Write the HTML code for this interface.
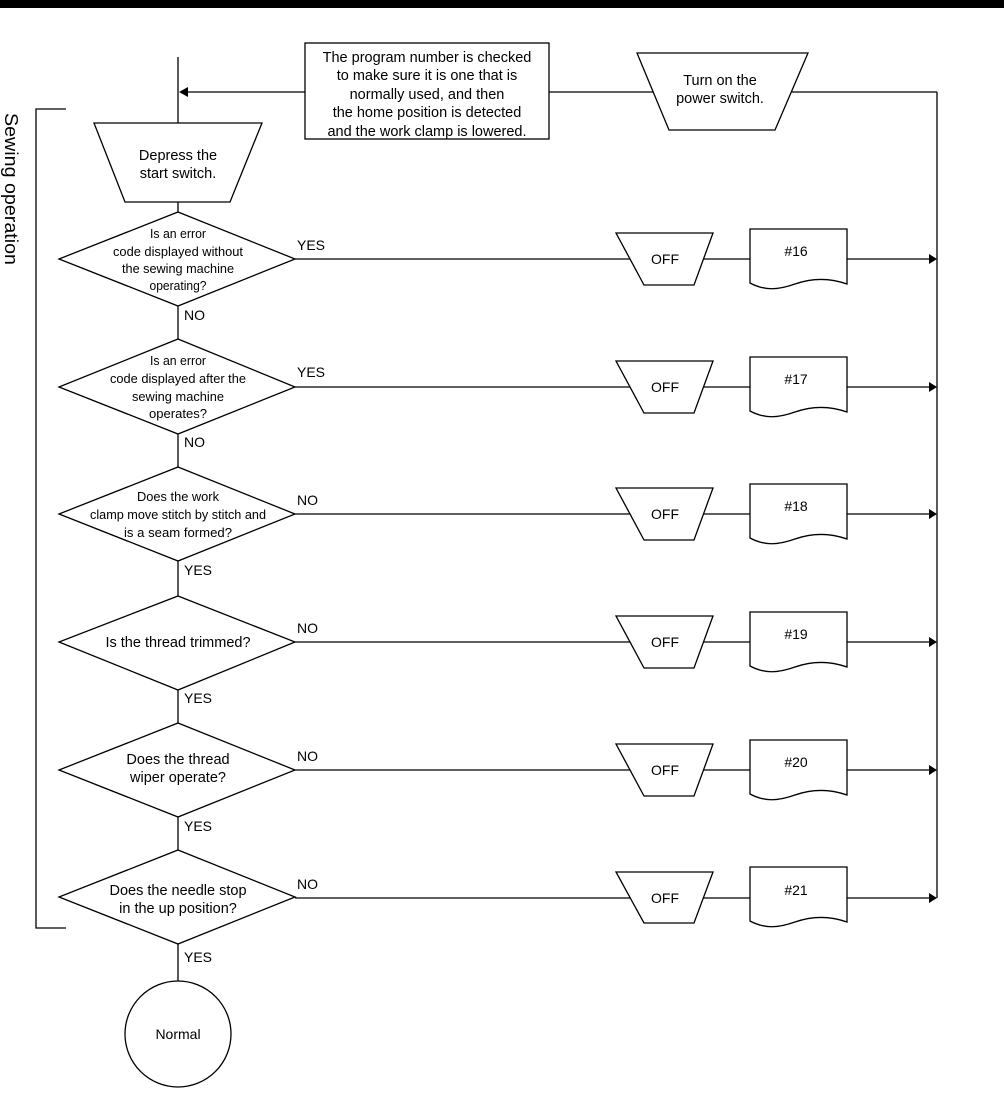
<!DOCTYPE html>
<html><head><meta charset="utf-8"><style>
html,body{margin:0;padding:0;background:#fff;}
svg{display:block;}
text{font-family:"Liberation Sans",Arial,sans-serif;fill:#000;}
</style></head><body>
<svg width="1004" height="1095" viewBox="0 0 1004 1095" xmlns="http://www.w3.org/2000/svg">
<rect x="0" y="0" width="1004" height="8" fill="#000"/>
<g stroke="#000" stroke-width="1.3" fill="none">
<line x1="178" y1="57" x2="178" y2="981"/>
<line x1="187" y1="92" x2="305" y2="92"/>
<line x1="549" y1="92" x2="937" y2="92"/>
<line x1="937" y1="92" x2="937" y2="898"/>
<polyline points="66,109 36,109 36,928 66,928"/>
</g>
<polygon points="179,92 188,87 188,97" fill="#000"/>
<rect x="305" y="43" width="244" height="96" fill="#fff" stroke="#000" stroke-width="1.3"/>
<g font-size="14.5" text-anchor="middle">
<text x="427" y="62">The program number is checked</text>
<text x="427" y="80">to make sure it is one that is</text>
<text x="427" y="99">normally used, and then</text>
<text x="427" y="117">the home position is detected</text>
<text x="427" y="136">and the work clamp is lowered.</text>
</g>
<polygon points="637,53 808,53 775,130 669,130" fill="#fff" stroke="#000" stroke-width="1.3"/>
<text x="720" y="85" font-size="14.5" text-anchor="middle">Turn on the</text>
<text x="720" y="103" font-size="14.5" text-anchor="middle">power switch.</text>
<polygon points="94,123 262,123 230,202 125,202" fill="#fff" stroke="#000" stroke-width="1.3"/>
<text x="178" y="160" font-size="14.5" text-anchor="middle">Depress the</text>
<text x="178" y="178" font-size="14.5" text-anchor="middle">start switch.</text>
<text transform="translate(5,113) rotate(90)" font-size="18" textLength="152" lengthAdjust="spacingAndGlyphs">Sewing operation</text>

<g stroke="#000" stroke-width="1.3" fill="#fff">
<line x1="295" y1="259" x2="930" y2="259"/>
<line x1="295" y1="387" x2="930" y2="387"/>
<line x1="295" y1="514" x2="930" y2="514"/>
<line x1="295" y1="642" x2="930" y2="642"/>
<line x1="295" y1="770" x2="930" y2="770"/>
<line x1="295" y1="898" x2="930" y2="898"/>

<polygon points="178,212 295,259 178,306 59,259"/>
<polygon points="178,339 295,387 178,434 59,387"/>
<polygon points="178,467 295,514 178,561 59,514"/>
<polygon points="178,596 295,642 178,690 59,642"/>
<polygon points="178,723 295,770 178,817 59,770"/>
<polygon points="178,850 295,897 178,944 59,897"/>

<polygon points="616,233 713,233 694,285 644,285"/>
<polygon points="616,361 713,361 694,413 644,413"/>
<polygon points="616,488 713,488 694,540 644,540"/>
<polygon points="616,616 713,616 694,668 644,668"/>
<polygon points="616,744 713,744 694,796 644,796"/>
<polygon points="616,872 713,872 694,923 644,923"/>

<path d="M750,229 H847 V284 C830,278 812,278 795,284 S765,291 750,283 Z"/>
<path d="M750,357 H847 V412 C830,406 812,406 795,412 S765,419 750,411 Z"/>
<path d="M750,484 H847 V539 C830,533 812,533 795,539 S765,546 750,538 Z"/>
<path d="M750,612 H847 V667 C830,661 812,661 795,667 S765,674 750,666 Z"/>
<path d="M750,740 H847 V795 C830,789 812,789 795,795 S765,802 750,794 Z"/>
<path d="M750,867 H847 V922 C830,916 812,916 795,922 S765,929 750,921 Z"/>
<circle cx="178" cy="1034" r="53"/>
</g>
<g fill="#000">
<polygon points="937,259 929,254 929,264"/>
<polygon points="937,387 929,382 929,392"/>
<polygon points="937,514 929,509 929,519"/>
<polygon points="937,642 929,637 929,647"/>
<polygon points="937,770 929,765 929,775"/>
<polygon points="937,898 929,893 929,903"/>
</g>
<g font-size="14" text-anchor="middle">
<text x="665" y="264">OFF</text><text x="796" y="256">#16</text>
<text x="665" y="392">OFF</text><text x="796" y="384">#17</text>
<text x="665" y="519">OFF</text><text x="796" y="511">#18</text>
<text x="665" y="647">OFF</text><text x="796" y="639">#19</text>
<text x="665" y="775">OFF</text><text x="796" y="767">#20</text>
<text x="665" y="903">OFF</text><text x="796" y="895">#21</text>
<text x="178" y="1039">Normal</text>
</g>
<g font-size="14">
<text x="297" y="250">YES</text><text x="184" y="320">NO</text>
<text x="297" y="377">YES</text><text x="184" y="447">NO</text>
<text x="297" y="505">NO</text><text x="184" y="575">YES</text>
<text x="297" y="633">NO</text><text x="184" y="703">YES</text>
<text x="297" y="761">NO</text><text x="184" y="831">YES</text>
<text x="297" y="889">NO</text><text x="184" y="962">YES</text>
</g>
<g font-size="13" text-anchor="middle">
<text x="178" y="238" textLength="56" lengthAdjust="spacingAndGlyphs">Is an error</text>
<text x="178" y="256" textLength="130" lengthAdjust="spacingAndGlyphs">code displayed without</text>
<text x="178" y="273" textLength="112" lengthAdjust="spacingAndGlyphs">the sewing machine</text>
<text x="178" y="290" textLength="57" lengthAdjust="spacingAndGlyphs">operating?</text>

<text x="178" y="365" textLength="56" lengthAdjust="spacingAndGlyphs">Is an error</text>
<text x="178" y="383" textLength="136" lengthAdjust="spacingAndGlyphs">code displayed after the</text>
<text x="178" y="401" textLength="92" lengthAdjust="spacingAndGlyphs">sewing machine</text>
<text x="178" y="418" textLength="58" lengthAdjust="spacingAndGlyphs">operates?</text>

<text x="178" y="501" textLength="82" lengthAdjust="spacingAndGlyphs">Does the work</text>
<text x="178" y="519" textLength="176" lengthAdjust="spacingAndGlyphs">clamp move stitch by stitch and</text>
<text x="178" y="537" textLength="108" lengthAdjust="spacingAndGlyphs">is a seam formed?</text>
</g>
<g font-size="14.5" text-anchor="middle">
<text x="178" y="647">Is the thread trimmed?</text>
<text x="178" y="764">Does the thread</text>
<text x="178" y="782">wiper operate?</text>
<text x="178" y="895">Does the needle stop</text>
<text x="178" y="913">in the up position?</text>
</g>
</svg>
</body></html>
